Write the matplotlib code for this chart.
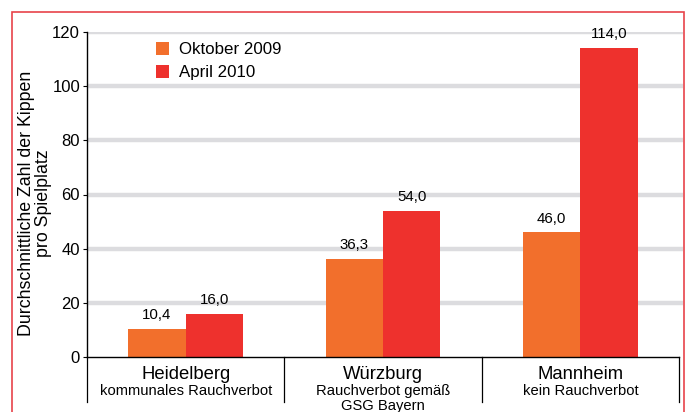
import numpy as np
import matplotlib.pyplot as plt
from matplotlib.patches import Rectangle
from matplotlib.lines import Line2D

plt.rcParams['font.family'] = ['Liberation Sans', 'DejaVu Sans']

cities = ['Heidelberg', 'Würzburg', 'Mannheim']
subtitles = ['kommunales Rauchverbot', 'Rauchverbot gemäß\nGSG Bayern', 'kein Rauchverbot']
okt_2009 = [10.4, 36.3, 46.0]
apr_2010 = [16.0, 54.0, 114.0]
series_names = ['Oktober 2009', 'April 2010']
yticks = [0, 20, 40, 60, 80, 100, 120]

c_orange = '#F26F2C'
c_red = '#EE312D'

fig = plt.figure(figsize=(6.86, 4.12), dpi=100)
ax = fig.add_axes([87/686, 1 - 357/412, (683 - 87)/686, (357 - 32)/412])

# red frame around everything
fig.patches.append(Rectangle((12/686, -0.05), (684 - 12)/686, 1 - 12/412 + 0.05,
                             transform=fig.transFigure, fill=False,
                             edgecolor='#E8434A', linewidth=1.2))

x = np.arange(len(cities))
w = 0.29
b1 = ax.bar(x - w/2, okt_2009, w, color=c_orange, zorder=3)
b2 = ax.bar(x + w/2, apr_2010, w, color=c_red, zorder=3)

for bars, vals in [(b1, okt_2009), (b2, apr_2010)]:
    for b, v in zip(bars, vals):
        ax.text(b.get_x() + b.get_width()/2, v + 2.5, f'{v:.1f}'.replace('.', ','),
                ha='center', va='bottom', fontsize=10.8)

ax.set_xlim(-0.5, 2.5 + 4/198)
ax.set_ylim(0, 120)
ax.set_yticks(yticks)
ax.set_yticklabels([str(t) for t in yticks], fontsize=12)
ax.tick_params(axis='y', length=3, width=0.8, pad=2)
ax.set_xticks([])
for t in yticks[1:]:
    ax.axhline(t, color='#DCDCDF', linewidth=3.2, zorder=1)

for s in ['top', 'right', 'bottom']:
    ax.spines[s].set_visible(False)
ax.spines['left'].set_linewidth(1)
ax.add_line(Line2D([-0.5, 2.5], [0, 0], color='black', linewidth=1, clip_on=False, zorder=4))

# extend left axis and draw category separators below the plot
for xs in [-0.5, 0.5, 1.5, 2.5]:
    ax.add_line(Line2D([xs, xs], [0, -45 / 2.708], color='black', linewidth=0.9,
                       clip_on=False))

for i, (c, s) in enumerate(zip(cities, subtitles)):
    ax.text(i, -3.2, c, ha='center', va='top', fontsize=13.3)
    ax.text(i, -10.0, s, ha='center', va='top', fontsize=10.6, linespacing=1.12)

fig.text(35/686, 1 - 203/412, 'Durchschnittliche Zahl der Kippen\npro Spielplatz',
         rotation=90, ha='center', va='center', fontsize=12.8, linespacing=1.02)

ax.legend([b1, b2], series_names, loc='upper left', bbox_to_anchor=(0.09, 1.015),
          frameon=False, fontsize=12.2, handlelength=0.75, handleheight=0.75,
          handletextpad=0.6, labelspacing=0.45)

fig.savefig('out.png', dpi=100)
